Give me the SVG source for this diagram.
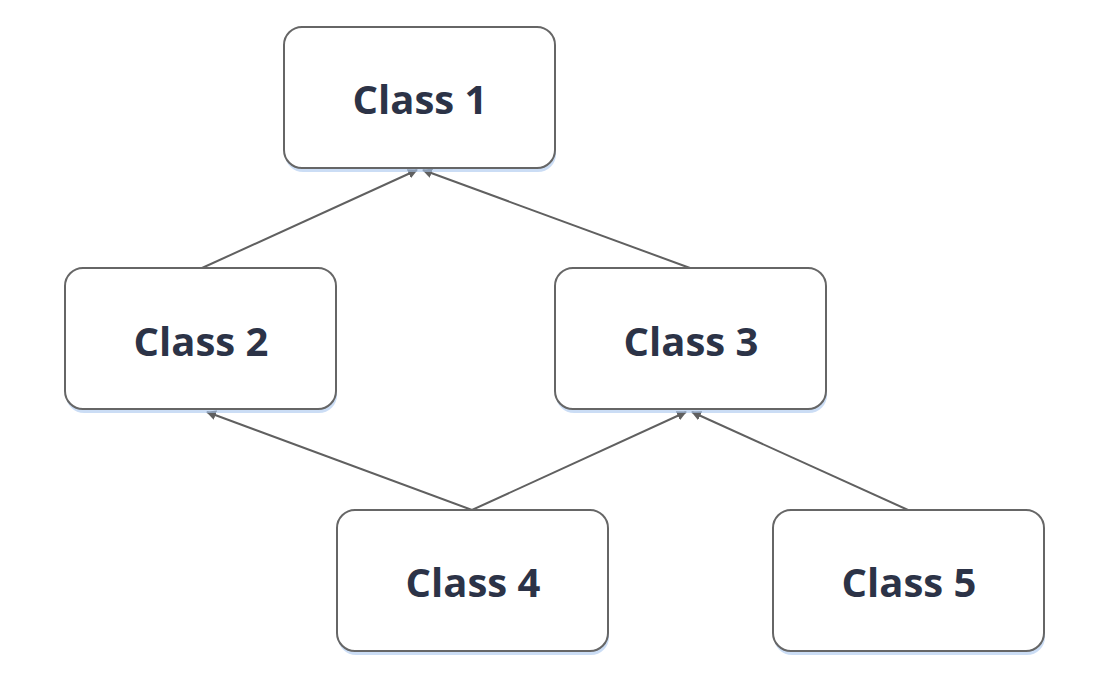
<svg xmlns="http://www.w3.org/2000/svg" width="1100" height="676" viewBox="0 0 1100 676">
<defs>
<marker id="arr" viewBox="0 0 10 10" refX="9" refY="5" markerWidth="10" markerHeight="10" markerUnits="userSpaceOnUse" orient="auto"><path d="M0,0 L10,5 L0,10 Z" fill="#606060"/></marker>
<filter id="sh" x="-10%" y="-10%" width="120%" height="130%"><feGaussianBlur in="SourceAlpha" stdDeviation="2"/><feOffset dy="3"/><feComponentTransfer><feFuncA type="linear" slope="0.5"/></feComponentTransfer><feFlood flood-color="#7aa8e0"/><feComposite operator="in" in2="SourceAlpha"/></filter>
</defs>
<style>
.b{fill:#fff;stroke:#666;stroke-width:2}
.s{fill:#a9c6ee;opacity:0.6}
.t{font-family:"Open Sans","Liberation Sans",sans-serif;font-weight:bold;font-size:40px;fill:#2c3347;text-anchor:middle;dominant-baseline:central}
.e{stroke:#606060;stroke-width:2;fill:none;marker-end:url(#arr)}
</style>
<rect width="1100" height="676" fill="#fff"/>
<g id="connectors">
<line class="e" x1="202" y1="268" x2="417" y2="170"/>
<line class="e" x1="690" y1="268" x2="423" y2="170"/>
<line class="e" x1="472" y1="510" x2="207" y2="412"/>
<line class="e" x1="472" y1="510" x2="686" y2="412"/>
<line class="e" x1="908" y1="510" x2="692" y2="412"/>
</g>
<g id="class1"><rect class="s" x="285" y="31" width="271" height="141" rx="18"/><rect class="b" x="284" y="27" width="271" height="141" rx="18"/><text class="t" x="420" y="98">Class 1</text></g>
<g id="class2"><rect class="s" x="66" y="272" width="271" height="141" rx="18"/><rect class="b" x="65" y="268" width="271" height="141" rx="18"/><text class="t" x="201" y="340">Class 2</text></g>
<g id="class3"><rect class="s" x="556" y="272" width="271" height="141" rx="18"/><rect class="b" x="555" y="268" width="271" height="141" rx="18"/><text class="t" x="691" y="340">Class 3</text></g>
<g id="class4"><rect class="s" x="338" y="514" width="271" height="141" rx="18"/><rect class="b" x="337" y="510" width="271" height="141" rx="18"/><text class="t" x="473" y="581">Class 4</text></g>
<g id="class5"><rect class="s" x="774" y="514" width="271" height="141" rx="18"/><rect class="b" x="773" y="510" width="271" height="141" rx="18"/><text class="t" x="909" y="581">Class 5</text></g>
</svg>
